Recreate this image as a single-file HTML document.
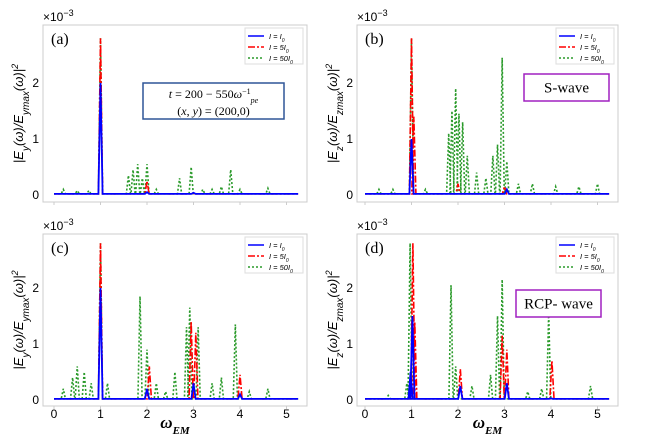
<!DOCTYPE html>
<html><head><meta charset="utf-8"><style>
body{margin:0;background:#fff}
svg{display:block;font-family:"Liberation Sans",sans-serif}
</style></head><body>
<svg id="c" width="654" height="434"></svg>
<script>
const xTicks=[0,1,2,3,4,5];
const yTicks=[0,1,2];
const panelLabels=["(a)","(b)","(c)","(d)"];
const yLabels=["E<tspan baseline-shift='sub' font-size='10'>y</tspan>(ω)/E<tspan baseline-shift='sub' font-size='10'>ymax</tspan>(ω)","E<tspan baseline-shift='sub' font-size='10'>z</tspan>(ω)/E<tspan baseline-shift='sub' font-size='10'>zmax</tspan>(ω)","E<tspan baseline-shift='sub' font-size='10'>y</tspan>(ω)/E<tspan baseline-shift='sub' font-size='10'>ymax</tspan>(ω)","E<tspan baseline-shift='sub' font-size='10'>z</tspan>(ω)/E<tspan baseline-shift='sub' font-size='10'>zmax</tspan>(ω)"];
const blueA=[[1.0,2.0],[2.0,0.05],[3.0,0.04]];
const redA=[[1.0,2.8],[2.0,0.25],[3.0,0.03]];
const greenA=[[0.2,0.1],[0.5,0.08],[0.75,0.08],[1.0,2.8],[1.6,0.35],[1.7,0.45],[1.8,0.55],[1.9,0.3],[2.0,0.55],[2.2,0.1],[2.7,0.3],[2.95,0.5],[3.2,0.1],[3.4,0.1],[3.6,0.15],[3.8,0.45],[4.0,0.1],[4.6,0.12]];
const blueB=[[1.0,1.0],[3.05,0.1]];
const redB=[[1.0,2.8],[1.05,1.4],[2.0,0.2],[3.0,0.15]];
const greenB=[[0.3,0.1],[0.6,0.1],[1.0,2.8],[1.3,0.1],[1.8,1.1],[1.87,1.5],[1.95,1.9],[2.02,1.45],[2.1,1.3],[2.2,0.7],[2.4,0.4],[2.6,0.3],[2.75,0.7],[2.85,0.9],[2.95,2.45],[3.05,0.6],[3.3,0.2],[3.6,0.2],[4.1,0.15],[4.6,0.15],[5.0,0.2]];
const blueC=[[1.0,2.0],[2.0,0.2],[3.0,0.3],[4.0,0.1]];
const redC=[[1.0,2.8],[2.05,0.6],[2.95,1.4],[3.05,1.2],[4.0,0.45]];
const greenC=[[0.2,0.2],[0.4,0.4],[0.5,0.6],[0.65,0.5],[0.8,0.3],[1.0,2.8],[1.15,0.3],[1.85,1.85],[2.0,0.9],[2.2,0.3],[2.4,0.15],[2.6,0.5],[2.85,1.3],[2.92,1.65],[3.1,1.3],[3.4,0.3],[3.6,0.4],[3.9,1.35],[4.2,0.15],[4.6,0.2]];
const blueD=[[0.98,0.5],[1.02,1.5],[2.05,0.25],[3.05,0.3],[4.0,0.03]];
const redD=[[1.03,2.8],[1.07,1.4],[2.05,0.55],[2.95,1.15],[3.05,0.9],[4.02,0.7]];
const greenD=[[0.5,0.08],[0.9,0.3],[0.97,2.8],[1.85,2.05],[1.95,0.6],[2.3,0.25],[2.7,0.45],[2.85,1.5],[2.95,2.15],[3.5,0.15],[3.8,0.2],[3.95,1.55],[4.85,0.25]];
const series=[[blueA,redA,greenA],[blueB,redB,greenB],[blueC,redC,greenC],[blueD,redD,greenD]];
const panels=[{l:43,r:307,t:25,b:202,x0:54,y0:195},{l:357,r:618,t:25,b:202,x0:365,y0:195},{l:43,r:307,t:234,b:406,x0:54,y0:400},{l:357,r:618,t:234,b:406,x0:365,y0:400}];
const svg=document.getElementById('c');
const NS="http://www.w3.org/2000/svg";
function mk(t,a,p){const e=document.createElementNS(NS,t);for(const k in a)e.setAttribute(k,a[k]);(p||svg).appendChild(e);return e;}
const colors=["#0000ff","#ff0000","#2a9a2a"];
const dashes=["","7,2,2,2","2,2"];
const names=["l-i0","l-5i0","l-50i0"];
panels.forEach((P,pi)=>{
  const g=mk('g',{});
  
  
  const sx=w=>P.x0+w*46.5, sy=v=>P.y0-v*56;
  const fr=mk('rect',{x:P.l,y:P.t,width:P.r-P.l,height:P.b-P.t,fill:"none",stroke:"#ccc"},g);
  
  xTicks.forEach(t=>{
    mk('line',{x1:sx(t),x2:sx(t),y1:P.b,y2:P.b+3,stroke:"#ccc"},g);
    if(pi>=2){const tx=mk('text',{x:sx(t),y:P.b+12,"font-size":12,"text-anchor":"middle"},g);tx.textContent=t;
      }
  });
  yTicks.forEach(t=>{
    const tx=mk('text',{x:P.l-4,y:sy(t)+4,"font-size":12,"text-anchor":"end"},g);tx.textContent=t;
    
  });
  const ex=mk('text',{x:P.l,y:P.t-4,"font-size":12},g);ex.innerHTML="×10<tspan baseline-shift='super' font-size='9'>−3</tspan>";
  
  const pl=mk('text',{x:P.l+8,y:P.t+19,"font-size":16,"font-family":"Liberation Serif"},g);pl.textContent=panelLabels[pi];
  
  const yl=mk('text',{transform:`translate(${P.l-20},${(P.t+P.b)/2}) rotate(-90)`,"font-size":13,"text-anchor":"middle","font-style":"italic"},g);
  yl.innerHTML="|"+yLabels[pi]+"|<tspan baseline-shift='super' font-size='9'>2</tspan>";
  
  [2,1,0].forEach(si=>{
    const pk=series[pi][si].slice().sort((a,b)=>a[0]-b[0]);
    let pts=[[sx(0),sy(0.02)]];
    pk.forEach(([w,h])=>{pts.push([sx(w-0.045),sy(0.02)],[sx(w),sy(h)],[sx(w+0.045),sy(0.02)]);});
    pts.push([sx(5.25),sy(0.02)]);
    const pl2=mk('polyline',{points:pts.map(p=>p.join(',')).join(' '),fill:"none",stroke:colors[si],"stroke-width":si==0?1.8:1.6,"stroke-dasharray":dashes[si]},g);
    
  });
  const lg=mk('g',{},g);
  mk('rect',{x:P.r-62,y:P.t+3,width:58,height:36,fill:"#fff",stroke:"#ddd","fill-opacity":0.8},lg);
  const labs=["I = I<tspan baseline-shift='sub' font-size='5'>0</tspan>","I = 5I<tspan baseline-shift='sub' font-size='5'>0</tspan>","I = 50I<tspan baseline-shift='sub' font-size='5'>0</tspan>"];
  for(let i=0;i<3;i++){
    const yy=P.t+11+i*11;
    mk('line',{x1:P.r-59,x2:P.r-43,y1:yy,y2:yy,stroke:colors[i],"stroke-width":1.5,"stroke-dasharray":dashes[i]},lg);
    const t=mk('text',{x:P.r-38,y:yy+3,"font-size":7.5,"font-style":"italic"},lg);t.innerHTML=labs[i];
  }
  if(pi>=2){const xt=mk('text',{x:(P.l+P.r)/2,y:P.b+22,"font-size":17,"text-anchor":"middle","font-style":"italic","font-weight":"bold","font-family":"Liberation Serif"},g);
    xt.innerHTML="ω<tspan baseline-shift='sub' font-size='11'>EM</tspan>";
    }
});
function box(x,y,w,h,c,lines,fs,name){
  const g=mk('g',{});
  mk('rect',{x,y,width:w,height:h,fill:"#fff",stroke:c,"stroke-width":1.5},g);
  lines.forEach((l,i)=>{const t=mk('text',{x:x+w/2,y:y+(lines.length==1?h/2+5:15+i*17),"font-size":fs,"text-anchor":"middle","font-family":"Liberation Serif"},g);t.innerHTML=l;});
}
box(143,83,141,36,"#2f5597",["<tspan font-style='italic'>t</tspan> = 200 − 550<tspan font-style='italic'>ω</tspan><tspan baseline-shift='super' font-size='8'>−1</tspan><tspan baseline-shift='sub' font-size='8' font-style='italic'>pe</tspan>","(<tspan font-style='italic'>x</tspan>, <tspan font-style='italic'>y</tspan>) = (200,0)"],12,"annotation-box");
box(524,74,85,27,"#a020c0",["S-wave"],15,"s-wave-label");
box(516,290,85,27,"#a020c0",["RCP- wave"],15,"rcp-wave-label");
</script>
</body></html>
